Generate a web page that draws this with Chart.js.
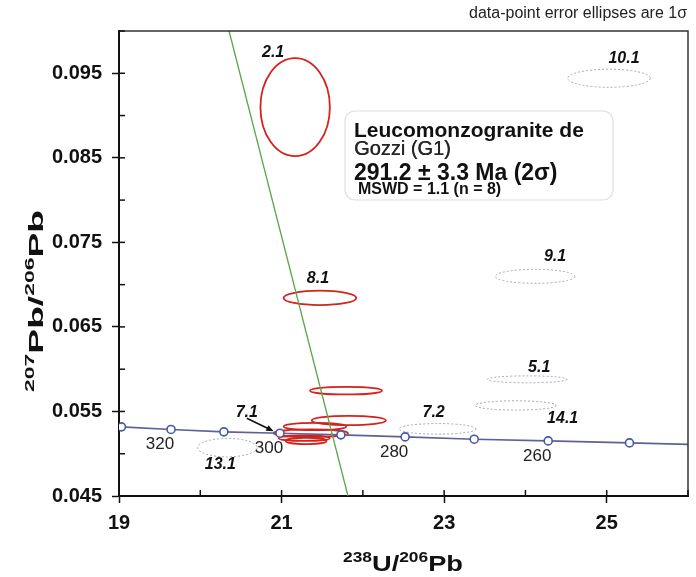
<!DOCTYPE html>
<html>
<head>
<meta charset="utf-8">
<script src="https://cdn.jsdelivr.net/npm/chart.js@4/dist/chart.umd.min.js"></script>
<style>
  html, body { margin: 0; padding: 0; background: #fff; }
  #wrap { width: 696px; height: 577px; position: relative; }
</style>
</head>
<body>
<div id="wrap"><canvas id="c" width="696" height="577"></canvas></div>
<script>
// ---- Axis ranges ----
const xRange = [19, 26];
const yRange = [0.045, 0.100];

// ---- Analyses used in the age (1σ errors) ----
const acceptedLabels     = ['2.1', '8.1', '', '', '', '7.1', '', ''];
const acceptedU238Pb206  = [21.167, 21.472, 21.793, 21.827, 21.411, 21.360, 21.278, 21.302];
const acceptedPb207Pb206 = [0.09099, 0.06843, 0.05746, 0.05393, 0.05322, 0.05243, 0.05184, 0.05151];
const acceptedErrU       = [0.427, 0.447, 0.443, 0.457, 0.386, 0.457, 0.315, 0.250];
const acceptedErrPb      = [0.0058, 0.00085, 0.00045, 0.00055, 0.00044, 0.00044, 0.00032, 0.00038];

// ---- Analyses left out of the age (1σ errors) ----
const rejectedLabels     = ['10.1', '9.1', '5.1', '14.1', '7.2', '13.1'];
const rejectedU238Pb206  = [25.028, 24.118, 24.022, 23.880, 22.920, 20.333];
const rejectedPb207Pb206 = [0.09441, 0.07098, 0.05880, 0.05571, 0.05294, 0.05072];
const rejectedErrU       = [0.508, 0.490, 0.490, 0.498, 0.473, 0.366];
const rejectedErrPb      = [0.00107, 0.00083, 0.00041, 0.00055, 0.00063, 0.00109];

// ---- Tera-Wasserburg concordia (ages in Ma) ----
const concordiaAges      = [null, 330, 320, 310, 300, 290, 280, 270, 260, 250, null];
const concordiaU238Pb206 = [19.00, 19.03, 19.64, 20.29, 20.98, 21.73, 22.52, 23.37, 24.28, 25.28, 26.00];
const concordiaPb207Pb206= [0.05320, 0.05318, 0.05287, 0.05259, 0.05243, 0.05223, 0.05199, 0.05172, 0.05152, 0.05128, 0.05111];
const labelledAges       = [320, 300, 280, 260];

// ---- Regression line ----
const regressionU238Pb206  = [20.354, 21.817];
const regressionPb207Pb206 = [0.100, 0.045];

// ---- Text ----
const cornerNote = 'data-point error ellipses are 1σ';
const sampleLines = ['Leucomonzogranite de', 'Gozzi (G1)', '291.2 ± 3.3 Ma (2σ)', 'MSWD = 1.1 (n = 8)'];

// label placement (pixel offsets from ellipse centre)
const spotLabelOffset = {
  '2.1': [-22, -55], '8.1': [-2, -19], '7.1': [-64, -21],
  '10.1': [15, -20], '9.1': [20, -20], '5.1': [12, -12],
  '14.1': [47, 13], '7.2': [-4, -16], '13.1': [-7, 17]
};

const FONT = '"Liberation Sans", Arial, Helvetica, sans-serif';

function spots(labels, xs, ys, ex, ey) {
  return xs.map((x, i) => ({ x, y: ys[i], ex: ex[i], ey: ey[i], label: labels[i] }));
}

function isMajorX(v) { return Math.round(v) % 2 === 1; }
function isMajorY(v) { return Math.round(v * 1000) % 10 === 5; }

// draws text made of normal and superscript parts, optionally stretched to a width
function drawRich(ctx, parts, x, y, o) {
  const fontOf = p => `${o.weight} ${p.sup ? o.supSize : o.size}px ${FONT}`;
  let total = 0;
  const widths = parts.map(p => { ctx.font = fontOf(p); const w = ctx.measureText(p.t).width; total += w; return w; });
  const k = o.width ? o.width / total : 1;
  ctx.save();
  ctx.translate(x, y);
  ctx.scale(k, 1);
  ctx.fillStyle = o.color;
  ctx.textAlign = 'left';
  ctx.textBaseline = 'alphabetic';
  let pos = -total / 2;
  parts.forEach((p, i) => {
    ctx.font = fontOf(p);
    ctx.fillText(p.t, pos, p.sup ? -o.supRise : 0);
    pos += widths[i];
  });
  ctx.restore();
}

const decorPlugin = {
  id: 'decor',
  beforeDatasetsDraw(chart) {
    const { ctx, chartArea: a, scales: { x, y } } = chart;
    ctx.save();
    ctx.beginPath();
    ctx.rect(a.left, a.top, a.right - a.left, a.bottom - a.top);
    ctx.clip();
    const drawSet = (ds, style) => {
      ctx.strokeStyle = style.color;
      ctx.lineWidth = style.width;
      ctx.setLineDash(style.dash);
      ds.data.forEach(d => {
        const px = x.getPixelForValue(d.x), py = y.getPixelForValue(d.y);
        const rx = Math.abs(x.getPixelForValue(d.x + d.ex) - px);
        const ry = Math.abs(y.getPixelForValue(d.y + d.ey) - py);
        ctx.beginPath();
        ctx.ellipse(px, py, rx, ry, 0, 0, Math.PI * 2);
        ctx.stroke();
      });
    };
    drawSet(chart.data.datasets[3], { color: '#a2a6ba', width: 1, dash: [2, 2] });
    drawSet(chart.data.datasets[2], { color: '#d4221c', width: 1.8, dash: [] });
    ctx.restore();
  },
  afterDraw(chart) {
    const { ctx, chartArea: a, scales: { x, y } } = chart;
    ctx.save();

    // frame top and right
    ctx.strokeStyle = '#333';
    ctx.lineWidth = 1.5;
    ctx.beginPath();
    ctx.moveTo(a.left, a.top); ctx.lineTo(a.right, a.top); ctx.lineTo(a.right, a.bottom);
    ctx.stroke();

    // inner tick marks
    ctx.strokeStyle = '#111';
    ctx.lineWidth = 1.5;
    x.ticks.forEach(t => {
      const px = x.getPixelForValue(t.value);
      ctx.beginPath(); ctx.moveTo(px, a.bottom); ctx.lineTo(px, a.bottom - 6); ctx.stroke();
    });
    y.ticks.forEach(t => {
      const py = y.getPixelForValue(t.value);
      ctx.beginPath(); ctx.moveTo(a.left, py); ctx.lineTo(a.left + 6, py); ctx.stroke();
    });

    // spot labels
    ctx.fillStyle = '#111';
    ctx.font = `italic bold 16px ${FONT}`;
    ctx.textAlign = 'center';
    ctx.textBaseline = 'middle';
    [chart.data.datasets[2], chart.data.datasets[3]].forEach(ds => ds.data.forEach(d => {
      if (!d.label) return;
      const off = spotLabelOffset[d.label];
      const px = x.getPixelForValue(d.x), py = y.getPixelForValue(d.y);
      ctx.fillText(d.label, px + off[0], py + off[1]);
      if (d.label === '7.1') {
        // pointer to the 7.1 ellipse
        const tx = x.getPixelForValue(d.x - d.ex), ty = py - 2;
        const sx = px + off[0], sy = py + off[1] + 6;
        const ang = Math.atan2(ty - sy, tx - sx);
        ctx.strokeStyle = '#111';
        ctx.lineWidth = 1.6;
        ctx.beginPath(); ctx.moveTo(sx, sy); ctx.lineTo(tx - 4 * Math.cos(ang), ty - 4 * Math.sin(ang)); ctx.stroke();
        ctx.beginPath();
        ctx.moveTo(tx, ty);
        ctx.lineTo(tx - 8 * Math.cos(ang - 0.4), ty - 8 * Math.sin(ang - 0.4));
        ctx.lineTo(tx - 8 * Math.cos(ang + 0.4), ty - 8 * Math.sin(ang + 0.4));
        ctx.closePath(); ctx.fill();
      }
    }));

    // concordia age labels
    ctx.font = `17px ${FONT}`;
    ctx.fillStyle = '#222';
    chart.data.datasets[0].data.forEach(d => {
      if (!labelledAges.includes(d.age)) return;
      ctx.fillText(String(d.age), x.getPixelForValue(d.x) - 11, y.getPixelForValue(d.y) + 15);
    });

    // sample box
    ctx.fillStyle = '#fff';
    ctx.strokeStyle = '#dedede';
    ctx.lineWidth = 1.2;
    ctx.beginPath();
    ctx.roundRect(345, 111, 268, 89, 10);
    ctx.fill(); ctx.stroke();
    ctx.textAlign = 'left';
    ctx.textBaseline = 'alphabetic';
    ctx.fillStyle = '#111';
    ctx.font = `bold 21px ${FONT}`;
    ctx.fillText(sampleLines[0], 354, 137);
    ctx.fillStyle = '#262626';
    ctx.font = `20px ${FONT}`;
    ctx.fillText(sampleLines[1], 354, 155);
    ctx.fillText(sampleLines[1], 354.4, 155);
    ctx.fillStyle = '#111';
    ctx.font = `bold 23px ${FONT}`;
    ctx.fillText(sampleLines[2], 354, 180);
    ctx.font = `bold 16px ${FONT}`;
    ctx.fillText(sampleLines[3], 358, 194);

    // corner note
    ctx.fillStyle = '#222';
    ctx.font = `16px ${FONT}`;
    ctx.textAlign = 'right';
    ctx.fillText(cornerNote, 687, 18);

    // axis titles
    drawRich(ctx, [{ t: '238', sup: true }, { t: 'U/' }, { t: '206', sup: true }, { t: 'Pb' }],
      403, 571, { weight: 'bold', size: 22, supSize: 14, supRise: 9, color: '#111', width: 120 });
    ctx.save();
    ctx.translate(43, 301);
    ctx.rotate(-Math.PI / 2);
    drawRich(ctx, [{ t: '207', sup: true }, { t: 'Pb/' }, { t: '206', sup: true }, { t: 'Pb' }],
      0, 0, { weight: 'bold', size: 21, supSize: 13, supRise: 9, color: '#111', width: 182 });
    ctx.restore();

    ctx.restore();
  }
};

new Chart(document.getElementById('c'), {
  type: 'scatter',
  data: {
    datasets: [
      {
        label: 'Concordia',
        type: 'line',
        data: concordiaU238Pb206.map((v, i) => ({ x: v, y: concordiaPb207Pb206[i], age: concordiaAges[i] })),
        borderColor: '#5f6096',
        borderWidth: 1.6,
        tension: 0,
        fill: false,
        pointRadius: c => (c.raw && c.raw.age ? 4 : 0),
        pointBackgroundColor: '#ffffff',
        pointBorderColor: '#4856a8',
        pointBorderWidth: 1.6,
        order: 2
      },
      {
        label: 'Regression',
        type: 'line',
        data: regressionU238Pb206.map((v, i) => ({ x: v, y: regressionPb207Pb206[i] })),
        borderColor: '#5aa54a',
        borderWidth: 1.3,
        pointRadius: 0,
        fill: false,
        order: 1
      },
      {
        label: 'Accepted',
        data: spots(acceptedLabels, acceptedU238Pb206, acceptedPb207Pb206, acceptedErrU, acceptedErrPb),
        pointRadius: 0,
        order: 3
      },
      {
        label: 'Rejected',
        data: spots(rejectedLabels, rejectedU238Pb206, rejectedPb207Pb206, rejectedErrU, rejectedErrPb),
        pointRadius: 0,
        order: 4
      }
    ]
  },
  options: {
    responsive: false,
    animation: false,
    devicePixelRatio: 1,
    layout: { padding: { top: 31, right: 3, left: 0, bottom: 0 } },
    plugins: { legend: { display: false }, tooltip: { enabled: false }, title: { display: false } },
    scales: {
      x: {
        type: 'linear',
        min: xRange[0], max: xRange[1],
        afterFit: s => { s.height = 81; },
        border: { display: true, color: '#111', width: 2 },
        grid: {
          drawOnChartArea: false, drawTicks: true, tickLength: 7, tickWidth: 1.5,
          tickColor: c => (c.tick && isMajorX(c.tick.value) ? '#111' : 'rgba(0,0,0,0)')
        },
        ticks: {
          stepSize: 1, autoSkip: false, maxRotation: 0, padding: 8,
          color: '#111',
          font: { family: FONT, size: 20, weight: 'bold' },
          callback: v => (isMajorX(v) ? String(Math.round(v)) : '')
        }
      },
      y: {
        type: 'linear',
        min: yRange[0], max: yRange[1],
        afterFit: s => { s.width = 119; },
        border: { display: true, color: '#111', width: 2 },
        grid: {
          drawOnChartArea: false, drawTicks: true, tickLength: 7, tickWidth: 1.5,
          tickColor: c => (c.tick && isMajorY(c.tick.value) ? '#111' : 'rgba(0,0,0,0)')
        },
        ticks: {
          stepSize: 0.005, autoSkip: false, padding: 10,
          color: '#111',
          font: { family: FONT, size: 20, weight: 'bold' },
          callback: v => (isMajorY(v) ? v.toFixed(3) : '')
        }
      }
    }
  },
  plugins: [decorPlugin]
});
</script>
</body>
</html>
